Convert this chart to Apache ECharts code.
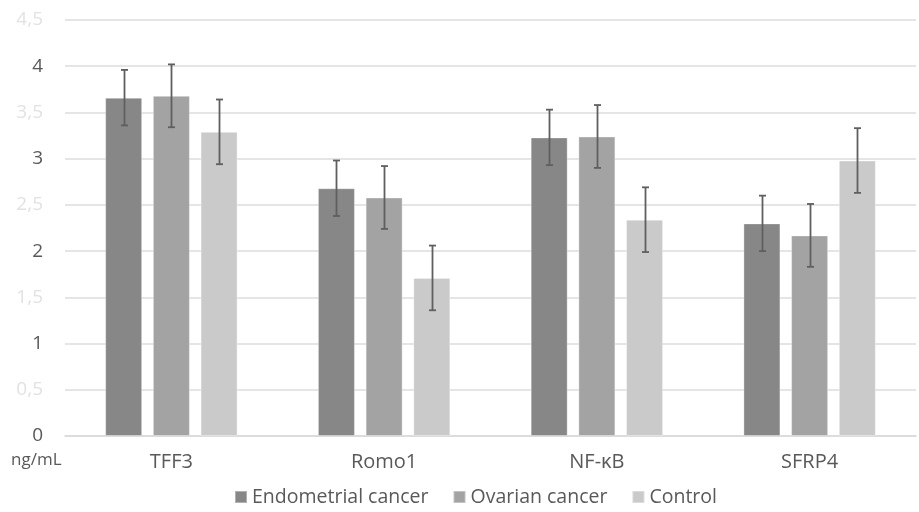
<!DOCTYPE html>
<html>
<head>
<meta charset="utf-8">
<script src="https://cdn.jsdelivr.net/npm/echarts@6/dist/echarts.min.js"></script>
<style>html,body{margin:0;padding:0;background:#fff;}#c{width:919px;height:512px;}</style>
</head>
<body>
<div id="c"></div>
<script>
var categories = ['TFF3', 'Romo1', 'NF-κB', 'SFRP4'];
var seriesNames = ['Endometrial cancer', 'Ovarian cancer', 'Control'];
var endometrial = [3.66, 2.68, 3.23, 2.30];
var ovarian = [3.68, 2.58, 3.24, 2.17];
var control = [3.29, 1.71, 2.34, 2.98];
var endometrialErr = [0.30, 0.30, 0.30, 0.30];
var ovarianErr = [0.34, 0.34, 0.34, 0.34];
var controlErr = [0.35, 0.35, 0.35, 0.35];
var yTicks = [0, 0.5, 1, 1.5, 2, 2.5, 3, 3.5, 4, 4.5];

var colors = ['#878787', '#a3a3a3', '#cacaca'];
var values = [endometrial, ovarian, control];
var errs = [endometrialErr, ovarianErr, controlErr];
var BAR_W = 37, GAP = 10.7;

function isWhole(val) { return Math.round(Number(val) * 2) % 2 === 0; }

var chart = echarts.init(document.getElementById('c'));
var series = [];
values.forEach(function (v, i) {
  series.push({
    name: seriesNames[i], type: 'bar', data: v, barWidth: BAR_W, barGap: (GAP / BAR_W * 100) + '%',
    itemStyle: { color: colors[i], borderColor: 'rgba(255,255,255,0.35)', borderWidth: 1 },
    z: 2
  });
});
values.forEach(function (v, i) {
  var offset = (i - 1) * (BAR_W + GAP);
  series.push({
    name: seriesNames[i] + ' err', type: 'custom',
    data: v.map(function (val, k) { return [k, val - errs[i][k], val + errs[i][k]]; }),
    encode: { x: 0, y: [1, 2] },
    z: 5,
    renderItem: function (params, api) {
      var lo = api.coord([api.value(0), api.value(1)]);
      var hi = api.coord([api.value(0), api.value(2)]);
      var x = Math.round(lo[0] + offset) + 0.5;
      var hw = 3.5;
      var st = { stroke: '#5f5f5f', lineWidth: 1.8 };
      return { type: 'group', children: [
        { type: 'line', shape: { x1: x, y1: hi[1], x2: x, y2: lo[1] }, style: st },
        { type: 'line', shape: { x1: x - hw, y1: hi[1], x2: x + hw, y2: hi[1] }, style: st },
        { type: 'line', shape: { x1: x - hw, y1: lo[1], x2: x + hw, y2: lo[1] }, style: st }
      ]};
    }
  });
});

chart.setOption({
  animation: false,
  backgroundColor: '#fff',
  textStyle: { fontFamily: 'Open Sans' },
  grid: { left: 65, right: 3, top: 20, bottom: 76 },
  legend: {
    data: seriesNames, bottom: 0, left: 229, itemWidth: 12, itemHeight: 12, itemGap: 24,
    icon: 'rect',
    textStyle: { fontSize: 19.5, color: '#595959', fontFamily: 'Open Sans' }
  },
  graphic: [{
    type: 'text', left: 11, top: 452,
    style: { text: 'ng/mL', fontSize: 17, fill: '#595959', fontFamily: 'Open Sans' }
  }],
  xAxis: {
    type: 'category', data: categories,
    axisLine: { lineStyle: { color: '#d9d9d9', width: 1.5 } },
    axisTick: { show: false },
    axisLabel: { fontSize: 20, color: '#595959', margin: 16, fontFamily: 'Open Sans' }
  },
  yAxis: {
    type: 'value', min: yTicks[0], max: yTicks[yTicks.length - 1], interval: 0.5,
    axisLine: { show: false }, axisTick: { show: false },
    splitLine: { lineStyle: { color: '#dcdcdc', width: 1.5 } },
    axisLabel: {
      show: true, fontSize: 19, margin: 22, fontFamily: 'Open Sans', color: '#595959',
      formatter: function (val) {
        var v = Number(val);
        return isWhole(v) ? '{m|' + v + '}' : '{f|' + String(v).replace('.', ',') + '}';
      },
      rich: {
        m: { fontSize: 19, color: '#595959', fontFamily: 'Open Sans' },
        f: { fontSize: 19, color: '#e2e2e2', fontFamily: 'Open Sans' }
      }
    }
  },
  series: series
});
</script>
</body>
</html>
